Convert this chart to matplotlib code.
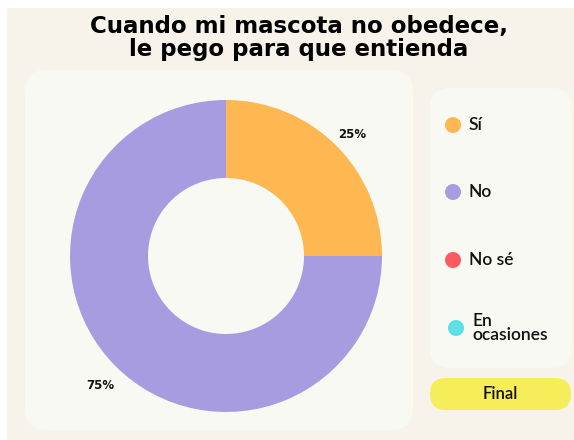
import matplotlib
matplotlib.use("Agg")
import numpy as np
import matplotlib.pyplot as plt
from matplotlib.patches import FancyBboxPatch, Rectangle
from matplotlib.transforms import IdentityTransform

# Données du graphique
categorias = ["Sí", "No", "No sé", "En\nocasiones"]
valores = [25, 75, 0, 0]
colores = ["#FFB752", "#A79CE0", "#FF5A5F", "#5CE1E6"]
titulo = "Cuando mi mascota no obedece,\nle pego para que entienda"
boton = "Final"

W, H = 574, 440
fig = plt.figure(figsize=(W / 100, H / 100), dpi=100)
fig.patch.set_facecolor("white")
px = IdentityTransform()


def caja(x0, y0, x1, y1, color, r):
    # coordonnées en pixels depuis le haut
    p = FancyBboxPatch((x0 + r, H - y1 + r), (x1 - x0) - 2 * r, (y1 - y0) - 2 * r,
                       boxstyle=f"round,pad={r}", transform=px, facecolor=color,
                       edgecolor="none", figure=fig, zorder=-5)
    fig.patches.append(p)


# fond beige
fig.patches.append(Rectangle((7, 0), W - 7, H - 8, transform=px, facecolor="#F8F3EA",
                             edgecolor="none", figure=fig, zorder=-10))
# panneaux
caja(25, 70, 413, 430, "#F9F9F4", 22)
caja(430, 88, 572, 368, "#F9F9F4", 20)
caja(430, 378, 571, 410, "#F5EE5A", 16)

fig.text(299 / W, 1 - 38 / H, titulo, ha="center", va="center", fontsize=16.5,
         fontweight="heavy", family="DejaVu Sans", linespacing=1.0, color="black")

# donut
cx, cy, r = 226, 256, 156
ax = fig.add_axes([(cx - r) / W, 1 - (cy + r) / H, 2 * r / W, 2 * r / H])
ax.pie(valores, colors=colores, startangle=90, counterclock=False, radius=1,
       wedgeprops=dict(width=0.5, edgecolor="none"))
ax.set_xlim(-1, 1)
ax.set_ylim(-1, 1)
ax.set_aspect("equal")
ax.axis("off")

# étiquettes de pourcentage
total = sum(valores)
angle = 90
for v in valores:
    if v == 0:
        continue
    mid = angle - 360 * v / total / 2
    angle -= 360 * v / total
    a = np.deg2rad(mid)
    ax.text(1.14 * np.cos(a), 1.14 * np.sin(a) - 0.026, f"{v}%", ha="center", va="center",
            fontsize=8.5, fontweight="bold", color="#111111", clip_on=False)

# légende
ys = [125, 192, 260, 328]
for cat, col, y in zip(categorias, colores, ys):
    xm = 453 if y != 328 else 456
    fig.patches.append(plt.Circle((xm, H - y), 8, transform=px, facecolor=col,
                                  edgecolor="none", figure=fig))
    fig.text((xm + 16) / W, 1 - y / H, cat, ha="left", va="center", fontsize=12.5,
             family="Lato", fontweight="semibold", linespacing=0.8, color="#111111")

fig.text(500 / W, 1 - 394 / H, boton, ha="center", va="center", fontsize=12,
         family="Lato", fontweight="semibold", color="#111111")

plt.savefig("out.png", dpi=100)
plt.close()
